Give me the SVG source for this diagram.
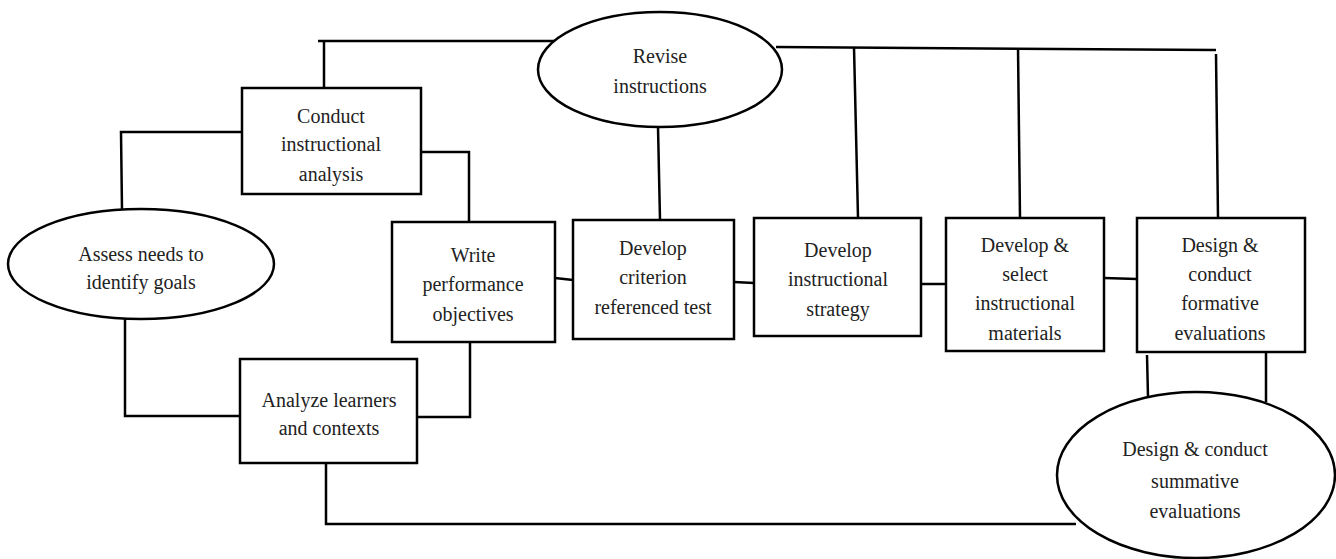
<svg xmlns="http://www.w3.org/2000/svg" width="1336" height="559" viewBox="0 0 1336 559">
<style>
.box{fill:#fff;stroke:#000;stroke-width:2.5}
.ln{fill:none;stroke:#000;stroke-width:2.5}
text{font-family:"Liberation Serif","Times New Roman",serif;font-size:20px;fill:#222;text-anchor:middle}
</style>
<rect width="1336" height="559" fill="#fff"/>
<g id="connectors">
<polyline class="ln" points="318,41 556,41"/>
<polyline class="ln" points="324,41 324,88"/>
<polyline class="ln" points="242,132 121,132 122,210"/>
<polyline class="ln" points="421,152 469,152 469,222"/>
<polyline class="ln" points="125,319 125,416 240,416"/>
<polyline class="ln" points="417,417 470,417 470,342"/>
<polyline class="ln" points="326,463 326,524 1076,524"/>
<polyline class="ln" points="776,47 1216,50"/>
<polyline class="ln" points="854,47 858,218"/>
<polyline class="ln" points="1018,48 1020,218"/>
<polyline class="ln" points="1216,54 1218,218"/>
<polyline class="ln" points="658,127 660,220"/>
<polyline class="ln" points="555,278 573,280"/>
<polyline class="ln" points="734,282 754,283"/>
<polyline class="ln" points="921,284 946,284"/>
<polyline class="ln" points="1104,278 1137,279"/>
<polyline class="ln" points="1147,355 1148,397"/>
<polyline class="ln" points="1266,352 1266,402"/>
</g>
<g id="assess">
<ellipse class="box" cx="141" cy="264" rx="133" ry="55"/>
<text x="141" y="261">Assess needs to</text>
<text x="141" y="289">identify goals</text>
</g>
<g id="conduct">
<rect class="box" x="242" y="88" width="179" height="106"/>
<text x="331" y="123">Conduct</text>
<text x="331" y="151">instructional</text>
<text x="331" y="181">analysis</text>
</g>
<g id="write">
<rect class="box" x="392" y="222" width="163" height="120"/>
<text x="473" y="262">Write</text>
<text x="473" y="291">performance</text>
<text x="473" y="321">objectives</text>
</g>
<g id="analyze">
<rect class="box" x="240" y="359" width="177" height="104"/>
<text x="329" y="407">Analyze learners</text>
<text x="329" y="435">and contexts</text>
</g>
<g id="criterion">
<rect class="box" x="573" y="220" width="161" height="119"/>
<text x="653" y="255">Develop</text>
<text x="653" y="284">criterion</text>
<text x="653" y="314">referenced test</text>
</g>
<g id="strategy">
<rect class="box" x="754" y="218" width="167" height="118"/>
<text x="838" y="257">Develop</text>
<text x="838" y="286">instructional</text>
<text x="838" y="316">strategy</text>
</g>
<g id="materials">
<rect class="box" x="946" y="218" width="158" height="133"/>
<text x="1025" y="252">Develop &amp;</text>
<text x="1025" y="281">select</text>
<text x="1025" y="310">instructional</text>
<text x="1025" y="340">materials</text>
</g>
<g id="formative">
<rect class="box" x="1137" y="218" width="168" height="134"/>
<text x="1220" y="252">Design &amp;</text>
<text x="1220" y="281">conduct</text>
<text x="1220" y="310">formative</text>
<text x="1220" y="340">evaluations</text>
</g>
<g id="revise">
<ellipse class="box" cx="660" cy="69.5" rx="122" ry="57.5"/>
<text x="660" y="63">Revise</text>
<text x="660" y="93">instructions</text>
</g>
<g id="summative">
<ellipse class="box" cx="1196" cy="475" rx="139" ry="83"/>
<text x="1195" y="456">Design &amp; conduct</text>
<text x="1195" y="488">summative</text>
<text x="1195" y="518">evaluations</text>
</g>
</svg>
